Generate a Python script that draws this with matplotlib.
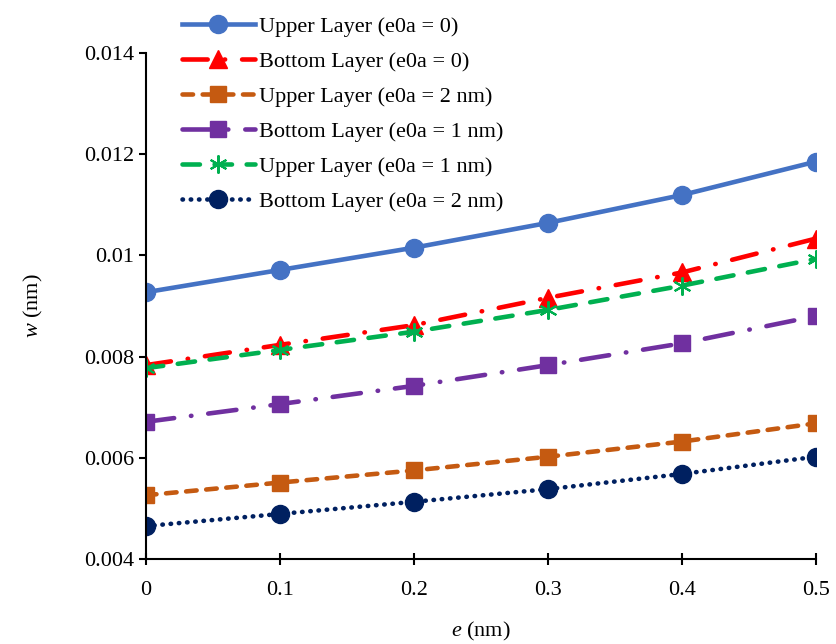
import matplotlib
matplotlib.use('Agg')
import matplotlib.pyplot as plt

plt.rcParams['font.family'] = ['Liberation Serif', 'DejaVu Serif']
plt.rcParams['mathtext.fontset'] = 'custom'
plt.rcParams['mathtext.rm'] = 'Liberation Serif'
plt.rcParams['mathtext.it'] = 'Liberation Serif:italic'

# data
e_vals = [0, 0.1, 0.2, 0.3, 0.4, 0.5]
upper_0 = [0.00927, 0.00971, 0.01015, 0.01064, 0.01119, 0.01185]
bottom_0 = [0.00783, 0.00823, 0.00862, 0.00916, 0.00966, 0.01033]
upper_2nm = [0.00526, 0.00551, 0.00575, 0.00602, 0.00632, 0.00668]
bottom_1nm = [0.00671, 0.00706, 0.00742, 0.00783, 0.00826, 0.00880]
upper_1nm = [0.00777, 0.00813, 0.00849, 0.00892, 0.00940, 0.00993]
bottom_2nm = [0.00465, 0.00489, 0.00513, 0.00538, 0.00568, 0.00602]

labels = ['Upper Layer (e0a = 0)', 'Bottom Layer (e0a = 0)',
          'Upper Layer (e0a = 2 nm)', 'Bottom Layer (e0a = 1 nm)',
          'Upper Layer (e0a = 1 nm)', 'Bottom Layer (e0a = 2 nm)']
x_ticks = [0, 0.1, 0.2, 0.3, 0.4, 0.5]
x_ticklabels = ['0', '0.1', '0.2', '0.3', '0.4', '0.5']
y_ticks = [0.004, 0.006, 0.008, 0.010, 0.012, 0.014]
y_ticklabels = ['0.004', '0.006', '0.008', '0.01', '0.012', '0.014']

fig = plt.figure(figsize=(8.36, 6.44), dpi=100)
ax = fig.add_axes([0.1746, 0.132, 0.8014, 0.786])

lw = 3.3
ax.plot(e_vals, upper_0, color='#4472C4', lw=lw, marker='o', ms=13,
        label=labels[0])
ax.plot(e_vals, bottom_0, color='#FF0000', lw=lw, marker='^', ms=13,
        dashes=(5.5, 3.7, 0.1, 3.7), dash_capstyle='round', label=labels[1])
ax.plot(e_vals, upper_2nm, color='#C55A11', lw=lw, marker='s', ms=11,
        dashes=(2.3, 2.1), dash_capstyle='round', label=labels[2])
ax.plot(e_vals, bottom_1nm, color='#7030A0', lw=lw, marker='s', ms=11,
        dashes=(6.2, 3.7, 0.1, 3.7), dash_capstyle='round', label=labels[3])
ax.plot(e_vals, upper_1nm, color='#00B050', lw=lw, marker=(6, 2, 0), ms=13,
        mew=1.5, dashes=(3.8, 3.2), dash_capstyle='round', label=labels[4])
ax.plot(e_vals, bottom_2nm, color='#002060', lw=lw, marker='o', ms=13,
        dashes=(0.1, 1.7), dash_capstyle='round', label=labels[5])

ax.set_xlim(0, 0.5)
ax.set_ylim(0.004, 0.014)
ax.set_xticks(x_ticks)
ax.set_xticklabels(x_ticklabels)
ax.set_yticks(y_ticks)
ax.set_yticklabels(y_ticklabels)
ax.tick_params(axis='x', direction='inout', length=8, width=1.5, labelsize=16, pad=12)
ax.tick_params(axis='y', direction='out', length=5, width=1.5, labelsize=16)
for side in ['top', 'right']:
    ax.spines[side].set_visible(False)
for side in ['left', 'bottom']:
    ax.spines[side].set_linewidth(1.5)
    ax.spines[side].set_clip_on(False)

ax.set_xlabel('$\\mathit{e}$ (nm)', fontsize=16, labelpad=14)
ax.set_ylabel('$\\mathit{w}$ (nm)', fontsize=16, labelpad=28)

ax.legend(loc='upper left', bbox_to_anchor=(0.04, 1.09), frameon=False,
          fontsize=16, handlelength=3.3, handletextpad=0.2, labelspacing=0.65,
          borderaxespad=0)

fig.savefig('out.png', dpi=100)
